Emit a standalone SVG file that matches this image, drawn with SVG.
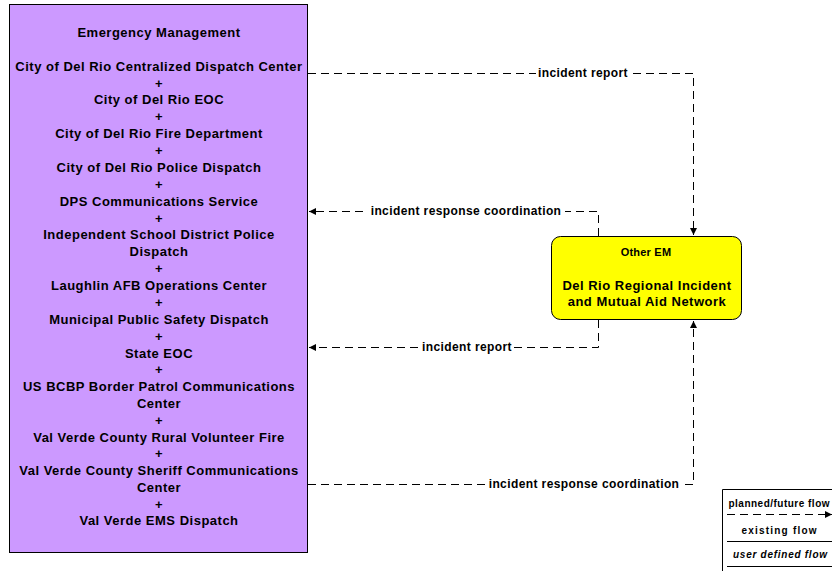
<svg xmlns="http://www.w3.org/2000/svg" width="832" height="571" viewBox="0 0 832 571">
<style>
text{font-family:"Liberation Sans",Arial,sans-serif;font-weight:bold;fill:#000;text-anchor:middle}
.n{font-size:13px;letter-spacing:0.5px}
.s{font-size:11px;letter-spacing:0.2px}
.f{fill:none;stroke:#000;stroke-width:1;stroke-dasharray:8,5}
.lbl{font-size:12px;letter-spacing:0.4px}
.lg{font-size:10px}
</style>
<defs>
<marker id="ah" markerWidth="8" markerHeight="8" refX="7" refY="4" orient="auto" markerUnits="userSpaceOnUse">
<path d="M0,0.5 L7,4 L0,7.5 Z" fill="#000"/>
</marker>
</defs>
<rect width="832" height="571" fill="#fff"/>
<g id="em">
<rect x="9.5" y="4.5" width="298" height="548" fill="#cc99ff" stroke="#000" stroke-width="1"/>
<text class="n" x="159" y="37">Emergency Management</text>
<text class="n" x="159" y="71">City of Del Rio Centralized Dispatch Center</text>
<text class="n" x="159" y="88">+</text>
<text class="n" x="159" y="104">City of Del Rio EOC</text>
<text class="n" x="159" y="121">+</text>
<text class="n" x="159" y="138">City of Del Rio Fire Department</text>
<text class="n" x="159" y="155">+</text>
<text class="n" x="159" y="172">City of Del Rio Police Dispatch</text>
<text class="n" x="159" y="189">+</text>
<text class="n" x="159" y="206">DPS Communications Service</text>
<text class="n" x="159" y="223">+</text>
<text class="n" x="159" y="239">Independent School District Police</text>
<text class="n" x="159" y="256">Dispatch</text>
<text class="n" x="159" y="273">+</text>
<text class="n" x="159" y="290">Laughlin AFB Operations Center</text>
<text class="n" x="159" y="307">+</text>
<text class="n" x="159" y="324">Municipal Public Safety Dispatch</text>
<text class="n" x="159" y="341">+</text>
<text class="n" x="159" y="358">State EOC</text>
<text class="n" x="159" y="374">+</text>
<text class="n" x="159" y="391">US BCBP Border Patrol Communications</text>
<text class="n" x="159" y="408">Center</text>
<text class="n" x="159" y="425">+</text>
<text class="n" x="159" y="442">Val Verde County Rural Volunteer Fire</text>
<text class="n" x="159" y="458">+</text>
<text class="n" x="159" y="475">Val Verde County Sheriff Communications</text>
<text class="n" x="159" y="492">Center</text>
<text class="n" x="159" y="509">+</text>
<text class="n" x="159" y="525">Val Verde EMS Dispatch</text>
</g>
<g id="other">
<rect x="551.5" y="236.5" width="190" height="83" rx="9" ry="9" fill="#ffff00" stroke="#000" stroke-width="1"/>
<text class="s" x="646" y="256">Other EM</text>
<text class="n" x="647" y="290">Del Rio Regional Incident</text>
<text class="n" x="647" y="306">and Mutual Aid Network</text>
</g>
<g id="connectors">
<path class="f" d="M308,73.5 H693.5 V235" marker-end="url(#ah)"/>
<rect x="536" y="66" width="94" height="14" fill="#fff"/>
<text class="lbl" x="583" y="77">incident report</text>
<path class="f" d="M598.5,236 V211.5 H309" marker-end="url(#ah)"/>
<rect x="367" y="204" width="198" height="14" fill="#fff"/>
<text class="lbl" x="466" y="215">incident response coordination</text>
<path class="f" d="M598.5,320 V347.5 H309" marker-end="url(#ah)"/>
<rect x="418" y="340" width="96" height="14" fill="#fff"/>
<text class="lbl" x="467" y="351">incident report</text>
<path class="f" d="M308,484.5 H693.5 V321" marker-end="url(#ah)"/>
<rect x="485" y="477" width="198" height="14" fill="#fff"/>
<text class="lbl" x="584" y="488">incident response coordination</text>
</g>
<g id="legend">
<path d="M722.5,571 V489.5 H832" fill="none" stroke="#000" stroke-width="1"/>
<text class="lg" x="779" y="507" textLength="101" lengthAdjust="spacing">planned/future flow</text>
<path class="f" d="M727,514.5 H832" stroke-dasharray="4,3" marker-end="url(#ah)"/>
<text class="lg" x="779" y="534" textLength="75" lengthAdjust="spacing">existing flow</text>
<path d="M727,541.5 H832" stroke="#000" stroke-width="1"/>
<text class="lg" x="780" y="558" font-style="italic" textLength="94" lengthAdjust="spacing">user defined flow</text>
<path d="M727,566.5 H832" stroke="#000" stroke-width="1"/>
</g>
</svg>
